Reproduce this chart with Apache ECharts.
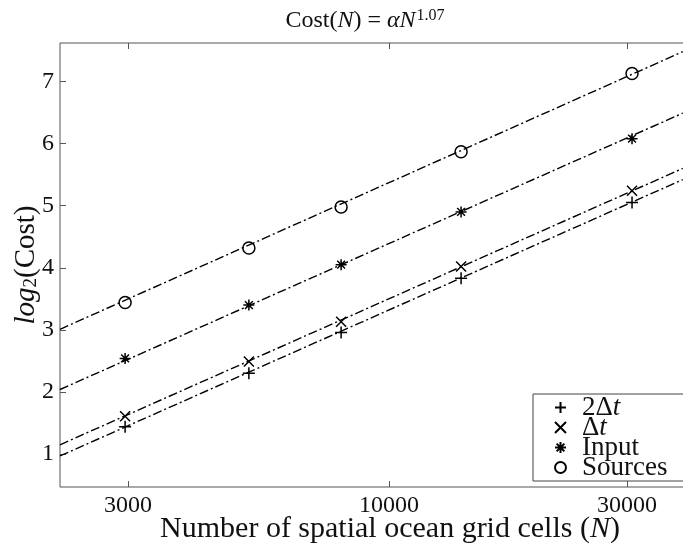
<!DOCTYPE html>
<html>
<head>
<meta charset="utf-8">
<script src="https://cdn.jsdelivr.net/npm/echarts@6/dist/echarts.min.js"></script>
<style>html,body{margin:0;padding:0;background:#fff}#c{width:683px;height:550px}</style>
</head>
<body>
<div id="c"></div>
<script>
// Data
const gridCells = [2960, 5240, 8020, 13950, 30700];
const cost2dt = [1.44, 2.30, 2.96, 3.83, 5.05];
const costDt = [1.61, 2.49, 3.13, 4.02, 5.24];
const costInput = [2.54, 3.40, 4.05, 4.90, 6.08];
const costSources = [3.44, 4.32, 4.98, 5.87, 7.13];
const fitCells = [2192, 38800];
const fit2dt = [0.97, 5.42];
const fitDt = [1.15, 5.60];
const fitInput = [2.04, 6.49];
const fitSources = [3.01, 7.48];
const xTickValues = [3000, 10000, 30000];
const yTickValues = [1, 2, 3, 4, 5, 6, 7];
const seriesNames = ['2Δt', 'Δt', 'Input', 'Sources'];

const FONT = '"Liberation Serif", "DejaVu Serif", serif';
const pair = (xs, ys) => xs.map((x, i) => [x, ys[i]]);

const symPlus = 'path://M0,6L12,6M6,0L6,12';
const symCross = 'path://M0,0L10,10M0,10L10,0';
const symStar = 'path://M6,0L6,12M0,6L12,6M1.76,1.76L10.24,10.24M1.76,10.24L10.24,1.76';

const markerSeries = [
  {name: seriesNames[0], data: pair(gridCells, cost2dt), symbol: symPlus, symbolSize: 12},
  {name: seriesNames[1], data: pair(gridCells, costDt), symbol: symCross, symbolSize: 10},
  {name: seriesNames[2], data: pair(gridCells, costInput), symbol: symStar, symbolSize: 11},
  {name: seriesNames[3], data: pair(gridCells, costSources), symbol: 'circle', symbolSize: 12}
].map(s => Object.assign({
  type: 'scatter', z: 5,
  itemStyle: {color: 'transparent', borderColor: '#000', borderWidth: 1.5, opacity: 1},
  emphasis: {disabled: true}
}, s));

const fitSeries = [fit2dt, fitDt, fitInput, fitSources].map(f => ({
  type: 'line', data: pair(fitCells, f), symbol: 'none', z: 3,
  lineStyle: {color: '#000', width: 1.4, type: [9, 3, 2, 3]},
  emphasis: {disabled: true}
}));

const xBase = {
  type: 'log', logBase: 10, min: 2192, max: 46070,
  axisLine: {show: false}, splitLine: {show: false}, minorTick: {show: false},
  axisTick: {inside: true, length: 6, customValues: xTickValues, lineStyle: {color: '#555'}}
};

const chart = echarts.init(document.getElementById('c'), null, {renderer: 'canvas'});
chart.setOption({
  animation: false,
  backgroundColor: '#fff',
  title: {
    text: '{n|Cost(}{i|N}{n|) = }{i|αN}{s|1.07}',
    left: 360, top: 3, textAlign: 'center',
    textStyle: {
      fontWeight: 'normal',
      rich: {
        n: {fontFamily: FONT, fontSize: 24, fontWeight: 'normal', color: '#111'},
        i: {fontFamily: FONT, fontSize: 24, fontWeight: 'normal', fontStyle: 'italic', color: '#111'},
        s: {fontFamily: FONT, fontSize: 16, fontWeight: 'normal', color: '#111', verticalAlign: 'top', padding: [0, 0, 10, 1]}
      }
    }
  },
  grid: {left: 60, top: 43, width: 660, height: 444, outerBoundsMode: 'none', containLabel: false,
    show: true, borderColor: '#555', borderWidth: 1, backgroundColor: '#fff'},
  legend: {
    orient: 'vertical', left: 533, top: 394,
    data: seriesNames,
    backgroundColor: '#fff', borderColor: '#444', borderWidth: 1,
    padding: [0, 80, 0, 21],
    itemWidth: 11, itemHeight: 11, itemGap: -7,
    selectedMode: false,
    formatter: function (n) {
      if (n === '2Δt') return '{g|}{n|2Δ}{i|t}';
      if (n === 'Δt') return '{g|}{n|Δ}{i|t}';
      return '{g|}{n|' + n + '}';
    },
    textStyle: {
      lineHeight: 20,
      rich: {
        g: {width: 11},
        n: {fontFamily: FONT, fontSize: 27, color: '#111', lineHeight: 20},
        i: {fontFamily: FONT, fontSize: 27, fontStyle: 'italic', color: '#111', lineHeight: 20}
      }
    }
  },
  xAxis: [
    Object.assign({}, xBase, {
      position: 'bottom',
      name: '{n|Number of spatial ocean grid cells (}{i|N}{n|)}',
      nameLocation: 'middle', nameGap: 27, nameMoveOverlap: false,
      nameTextStyle: {rich: {
        n: {fontFamily: FONT, fontSize: 30, color: '#111'},
        i: {fontFamily: FONT, fontSize: 30, fontStyle: 'italic', color: '#111'}
      }},
      axisLabel: {customValues: xTickValues, fontFamily: FONT, fontSize: 24, color: '#111', margin: 7,
        formatter: v => String(Math.round(v))}
    }),
    Object.assign({}, xBase, {position: 'top', axisLabel: {show: false}})
  ],
  yAxis: {
    type: 'value', min: 0.47, max: 7.62,
    axisLine: {show: false}, splitLine: {show: false},
    axisTick: {inside: true, length: 6, customValues: yTickValues, lineStyle: {color: '#555'}},
    axisLabel: {customValues: yTickValues, fontFamily: FONT, fontSize: 24, color: '#111', margin: 6},
    name: '{i|log}{s|2}{n|(Cost)}',
    nameLocation: 'middle', nameRotate: 90, nameGap: 19, nameMoveOverlap: false,
    nameTextStyle: {rich: {
      n: {fontFamily: FONT, fontSize: 29, color: '#111'},
      i: {fontFamily: FONT, fontSize: 29, fontStyle: 'italic', color: '#111'},
      s: {fontFamily: FONT, fontSize: 19, color: '#111', verticalAlign: 'bottom', padding: [9, 0, 0, 0]}
    }}
  },
  series: fitSeries.concat(markerSeries)
});
</script>
</body>
</html>
